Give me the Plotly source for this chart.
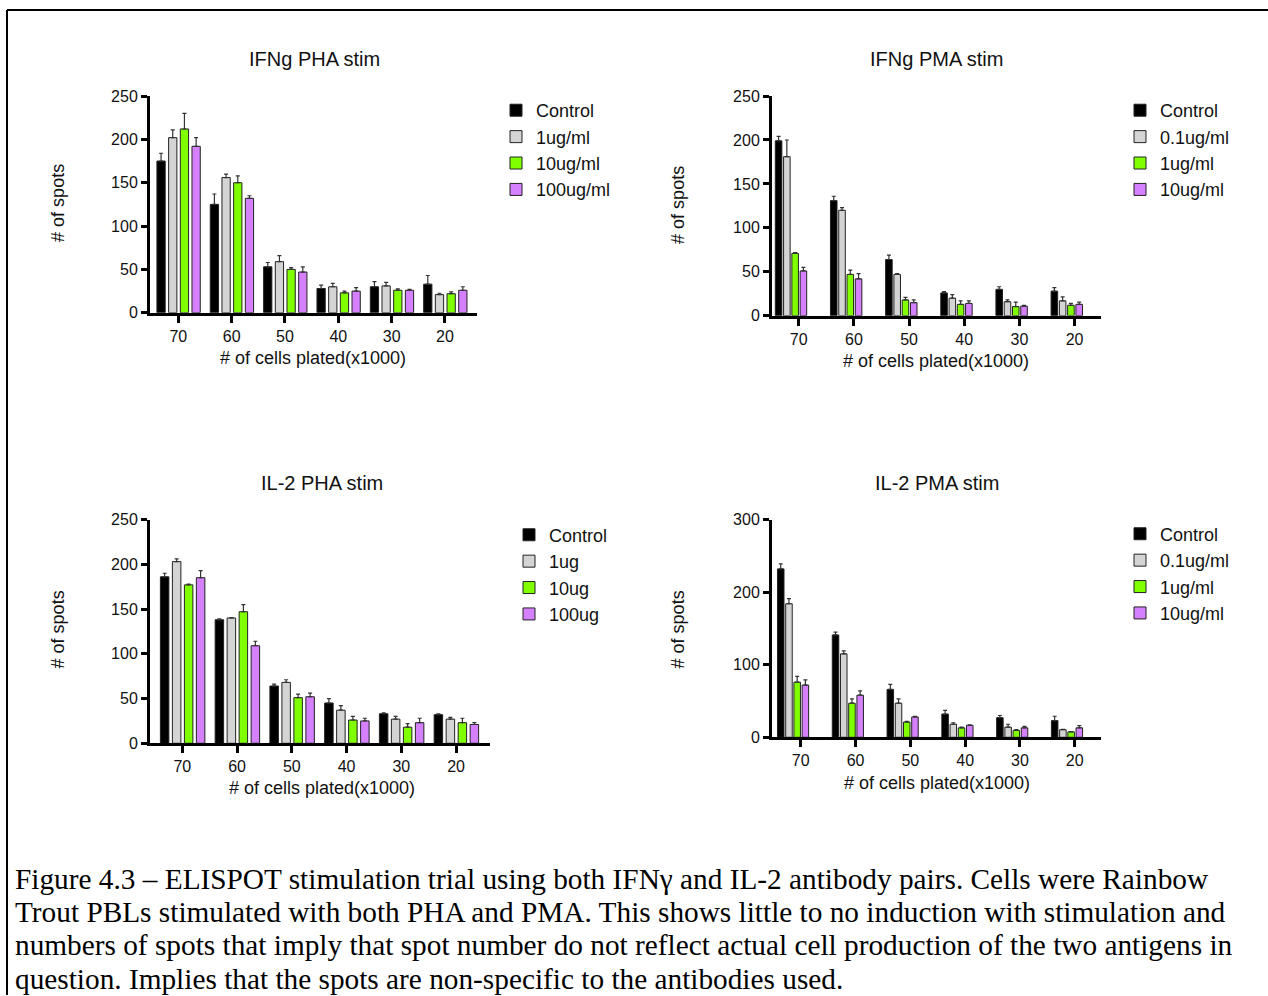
import plotly.graph_objects as go

# Vertical calibration of the page capture: the figure shows up 8px below
# the page top and the capture is squeezed by 996/1012 vertically.
W = 1268
V_SCALE = 1012 / 996
TOP_PAD = 8
H = 1004

# ---------------- data ----------------
cells = ["70", "60", "50", "40", "30", "20"]

# Panel 1: IFNg PHA stim
p1_title = "IFNg PHA stim"
p1_names = ["Control", "1ug/ml", "10ug/ml", "100ug/ml"]
p1_control = [175, 125, 53, 28, 30, 33]
p1_control_err = [9, 12, 5, 4, 6, 10]
p1_low = [202, 156, 59, 30, 31, 21]
p1_low_err = [9, 4, 7, 4, 4, 1.5]
p1_mid = [212, 150, 50, 23, 26, 22]
p1_mid_err = [18, 8, 2, 2, 1.5, 2]
p1_high = [192, 132, 47, 25, 26, 26]
p1_high_err = [10, 3, 6, 4, 1, 4]

# Panel 2: IFNg PMA stim
p2_title = "IFNg PMA stim"
p2_names = ["Control", "0.1ug/ml", "1ug/ml", "10ug/ml"]
p2_control = [199, 131, 64, 26, 30, 28]
p2_control_err = [5, 5, 5, 1.5, 3, 4]
p2_low = [181, 120, 47, 20, 16, 17]
p2_low_err = [19, 3, 1, 4, 2, 4.5]
p2_mid = [71, 47, 18, 13, 10.5, 12]
p2_mid_err = [1, 5, 3, 4, 5, 2]
p2_high = [51, 42, 15, 14, 11, 13]
p2_high_err = [4, 6, 3, 3, 1, 2.5]

# Panel 3: IL-2 PHA stim
p3_title = "IL-2 PHA stim"
p3_names = ["Control", "1ug", "10ug", "100ug"]
p3_control = [186, 138, 64, 45, 33, 32]
p3_control_err = [4, 1, 2, 5, 1, 1]
p3_low = [203, 140, 68, 37, 27, 27]
p3_low_err = [3, 0.5, 3, 5, 3, 2]
p3_mid = [177, 147, 51, 26, 18, 23]
p3_mid_err = [1, 8, 4, 4, 4, 5]
p3_high = [185, 109, 52, 25, 23, 21]
p3_high_err = [8, 5, 4, 3, 5, 2]

# Panel 4: IL-2 PMA stim
p4_title = "IL-2 PMA stim"
p4_names = ["Control", "0.1ug/ml", "1ug/ml", "10ug/ml"]
p4_control = [232, 141, 66, 32, 27, 23]
p4_control_err = [7, 4, 7, 5, 3, 6]
p4_low = [184, 115, 47, 18, 14, 10.5]
p4_low_err = [7, 4, 6, 2, 4, 0.5]
p4_mid = [76, 47, 21, 13, 9.5, 7.5]
p4_mid_err = [8, 6, 1, 1, 1, 0.5]
p4_high = [72, 58, 28, 16.5, 13, 13]
p4_high_err = [7, 6, 1, 0.5, 2, 3]

y_title = "# of spots"
x_title = "# of cells plated(x1000)"
caption_lines = [
    "Figure 4.3 \u2013 ELISPOT stimulation trial using both IFN\u03b3 and IL-2 antibody pairs. Cells were Rainbow",
    "Trout PBLs stimulated with both PHA and PMA. This shows little to no induction with stimulation and",
    "numbers of spots that imply that spot number do not reflect actual cell production of the two antigens in",
    "question. Implies that the spots are non-specific to the antibodies used.",
]

# ---------------- style ----------------
colors = ["#000000", "#d4d4d4", "#80ff00", "#d580ff"]
SANS = "Liberation Sans, Arial, sans-serif"
SERIF = "Liberation Serif, Times New Roman, serif"


def fx(px):
    return px / W


def fy(py):
    return 1 - (py * V_SCALE - TOP_PAD) / H


panels = [
    dict(title=p1_title, names=p1_names,
         vals=[p1_control, p1_low, p1_mid, p1_high],
         errs=[p1_control_err, p1_low_err, p1_mid_err, p1_high_err],
         box=(150, 477, 96, 313), xrange=[-0.53, 5.6], yrange=[0, 250], dtick=50,
         bw=0.155, step=0.219, start=-0.40,
         title_xy=(314, 59), ytitle_xy=(58, 203), xtitle_xy=(313, 358),
         legend_xy=(496, 92)),
    dict(title=p2_title, names=p2_names,
         vals=[p2_control, p2_low, p2_mid, p2_high],
         errs=[p2_control_err, p2_low_err, p2_mid_err, p2_high_err],
         box=(772, 1101, 96, 316), xrange=[-0.485, 5.48], yrange=[0, 250], dtick=50,
         bw=0.119, step=0.15, start=-0.425,
         title_xy=(936, 59), ytitle_xy=(678, 205), xtitle_xy=(936, 361),
         legend_xy=(1120, 92)),
    dict(title=p3_title, names=p3_names,
         vals=[p3_control, p3_low, p3_mid, p3_high],
         errs=[p3_control_err, p3_low_err, p3_mid_err, p3_high_err],
         box=(150, 490, 520, 744), xrange=[-0.59, 5.62], yrange=[0, 250], dtick=50,
         bw=0.155, step=0.219, start=-0.40,
         title_xy=(322, 483), ytitle_xy=(58, 630), xtitle_xy=(322, 789),
         legend_xy=(509, 517)),
    dict(title=p4_title, names=p4_names,
         vals=[p4_control, p4_low, p4_mid, p4_high],
         errs=[p4_control_err, p4_low_err, p4_mid_err, p4_high_err],
         box=(772, 1101, 520, 738), xrange=[-0.525, 5.48], yrange=[0, 300], dtick=100,
         bw=0.119, step=0.15, start=-0.425,
         title_xy=(937, 483), ytitle_xy=(678, 630), xtitle_xy=(937, 784),
         legend_xy=(1120, 516)),
]

fig = go.Figure()
annotations = []
layout_axes = {}
positions = list(range(len(cells)))

for k, p in enumerate(panels):
    n = "" if k == 0 else str(k + 1)
    xa, ya = "x" + n, "y" + n
    leg = "legend" + n
    for i, (name, v, e) in enumerate(zip(p["names"], p["vals"], p["errs"])):
        fig.add_trace(go.Bar(
            x=positions, y=v, name=name, xaxis=xa, yaxis=ya, legend=leg,
            width=p["bw"], offset=p["start"] + i * p["step"],
            marker=dict(color=colors[i], line=dict(color="#222222", width=1)),
            error_y=dict(type="data", array=e, arrayminus=[0] * len(e), symmetric=False,
                         color="#333333", thickness=1.2, width=2),
        ))
    x0, x1, y0, y1 = p["box"]
    layout_axes["xaxis" + n] = dict(
        domain=[fx(x0), fx(x1)], anchor=ya, range=p["xrange"],
        tickmode="array", tickvals=positions, ticktext=cells,
        showline=True, linewidth=3, linecolor="black", showgrid=False, zeroline=False,
        ticks="outside", ticklen=7, tickwidth=3, tickcolor="black",
        tickfont=dict(family=SANS, size=16, color="#111111"), fixedrange=True)
    layout_axes["yaxis" + n] = dict(
        domain=[fy(y1), fy(y0)], anchor=xa, range=p["yrange"], dtick=p["dtick"],
        showline=True, linewidth=3, linecolor="black", showgrid=False, zeroline=False,
        ticks="outside", ticklen=6, tickwidth=2.5, tickcolor="black",
        tickfont=dict(family=SANS, size=16, color="#111111"), fixedrange=True)
    layout_axes[leg] = dict(
        x=fx(p["legend_xy"][0]), y=fy(p["legend_xy"][1]), xanchor="left", yanchor="top",
        bgcolor="rgba(0,0,0,0)", font=dict(family=SANS, size=18, color="#111111"),
        tracegroupgap=0, itemclick=False, itemdoubleclick=False)
    tx, ty = p["title_xy"]
    annotations.append(dict(text=p["title"], x=fx(tx), y=fy(ty), xref="paper", yref="paper",
                            showarrow=False, xanchor="center", yanchor="middle",
                            font=dict(family=SANS, size=20, color="#111111")))
    tx, ty = p["ytitle_xy"]
    annotations.append(dict(text=y_title, x=fx(tx), y=fy(ty), xref="paper", yref="paper",
                            showarrow=False, xanchor="center", yanchor="middle", textangle=-90,
                            font=dict(family=SANS, size=18, color="#111111")))
    tx, ty = p["xtitle_xy"]
    annotations.append(dict(text=x_title, x=fx(tx), y=fy(ty), xref="paper", yref="paper",
                            showarrow=False, xanchor="center", yanchor="middle",
                            font=dict(family=SANS, size=18, color="#111111")))

caption_y = [880, 913, 946, 980]
for line, cy in zip(caption_lines, caption_y):
    annotations.append(dict(text=line, x=fx(13), y=fy(cy), xref="paper", yref="paper",
                            showarrow=False, xanchor="left", yanchor="middle", align="left",
                            font=dict(family=SERIF, size=29.3, color="#000000")))

shapes = [
    dict(type="line", xref="paper", yref="paper", x0=fx(7), x1=1, y0=fy(10), y1=fy(10),
         line=dict(color="black", width=2)),
    dict(type="line", xref="paper", yref="paper", x0=fx(7), x1=fx(7), y0=fy(10), y1=0,
         line=dict(color="black", width=2)),
]

fig.update_layout(
    width=W, height=H, margin=dict(l=0, r=0, t=0, b=0, pad=0),
    paper_bgcolor="white", plot_bgcolor="white",
    barmode="overlay", showlegend=True,
    annotations=annotations, shapes=shapes,
    font=dict(family=SANS, color="#111111"),
    **layout_axes,
)

fig.write_html(
    "out.html",
    config={"displayModeBar": False},
    post_script="document.body.style.margin='0';",
)
